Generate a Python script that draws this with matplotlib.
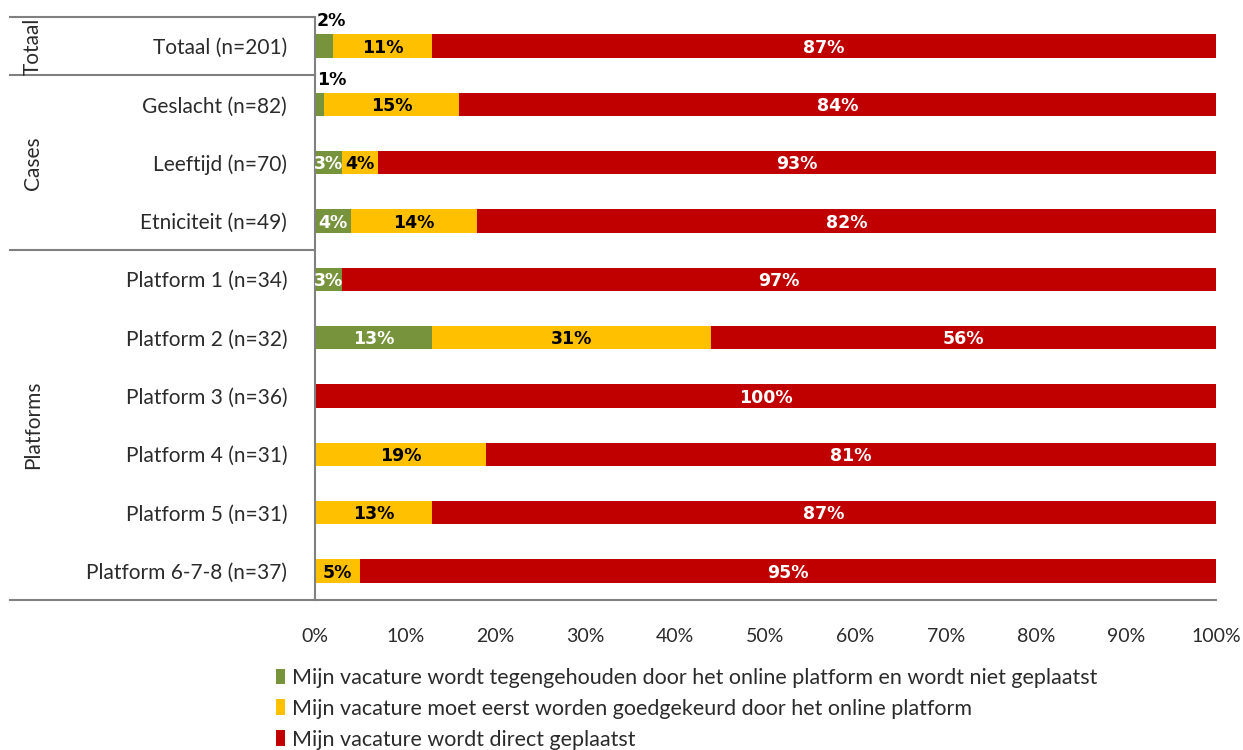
import matplotlib.pyplot as plt
import numpy as np
from matplotlib.patches import Patch

categories = ['Totaal (n=201)', 'Geslacht (n=82)', 'Leeftijd (n=70)', 'Etniciteit (n=49)',
              'Platform 1 (n=34)', 'Platform 2 (n=32)', 'Platform 3 (n=36)',
              'Platform 4 (n=31)', 'Platform 5 (n=31)', 'Platform 6-7-8 (n=37)']
tegengehouden = [2, 1, 3, 4, 3, 13, 0, 0, 0, 0]
goedgekeurd = [11, 15, 4, 14, 0, 31, 0, 19, 13, 5]
direct = [87, 84, 93, 82, 97, 56, 100, 81, 87, 95]
series_names = ['Mijn vacature wordt tegengehouden door het online platform en wordt niet geplaatst',
                'Mijn vacature moet eerst worden goedgekeurd door het online platform',
                'Mijn vacature wordt direct geplaatst']
groups = [('Totaal', 0, 0), ('Cases', 1, 3), ('Platforms', 4, 9)]
ticks = [0, 10, 20, 30, 40, 50, 60, 70, 80, 90, 100]

colors = ['#77933C', '#FFC000', '#C00000']
label_colors = ['white', 'black', 'white']
plt.rcParams['font.family'] = ['Lato', 'DejaVu Sans']
TXT = '#2b2b2b'

fig = plt.figure(figsize=(12.43, 7.5), dpi=100)
ax = fig.add_axes([315 / 1243, 150 / 750, 901 / 1243, 583 / 750])

y = np.arange(len(categories))
left = np.zeros(len(categories))
for vals, col, lcol, name in zip([tegengehouden, goedgekeurd, direct], colors, label_colors, series_names):
    vals = np.array(vals, dtype=float)
    ax.barh(y, vals, left=left, height=0.4, color=col, label=name)
    for i, v in enumerate(vals):
        if v == 0:
            continue
        if col == colors[0] and v < 3:
            # small values are written above the bar
            ax.text(left[i] + 0.2, i - 0.27, f'{v:.0f}%', ha='left', va='bottom',
                    fontsize=12.5, fontweight='bold', color='black', family='DejaVu Sans')
        else:
            ax.text(left[i] + v / 2, i + 0.03, f'{v:.0f}%', ha='center', va='center',
                    fontsize=12.5, fontweight='bold', color=lcol, family='DejaVu Sans')
    left += vals

ax.set_xlim(0, 100)
ax.set_ylim(9.5, -0.5)
ax.set_xticks(ticks)
ax.set_xticklabels([f'{t}%' for t in ticks], fontsize=14, color=TXT)
ax.tick_params(axis='x', length=0, pad=20)
ax.set_yticks(y)
ax.set_yticklabels(categories, fontsize=15, color=TXT)
ax.tick_params(axis='y', length=0, pad=20)
for s in ['top', 'right', 'bottom']:
    ax.spines[s].set_visible(False)
ax.spines['left'].set_color('#808080')
ax.spines['left'].set_linewidth(1.5)

# table-like separator lines on the left
tr = ax.get_yaxis_transform()
x0 = (10 - 315) / 901
for yy, x1 in [(-0.5, 0), (0.5, 0), (3.5, 0), (9.5, 1)]:
    ax.plot([x0, x1], [yy, yy], transform=tr, color='#808080', lw=1.5, clip_on=False)

for name, a, b in groups:
    ax.text((33 - 315) / 901, (a + b) / 2, name, transform=tr, rotation=90,
            ha='center', va='center', fontsize=15, color=TXT)

handles = [Patch(facecolor=c) for c in colors]
fig.legend(handles, series_names, loc='upper left', bbox_to_anchor=(276 / 1243, 1 - 668 / 750),
           frameon=False, prop={'size': 15.5}, handlelength=0.42,
           handleheight=0.75, handletextpad=0.3, labelspacing=0.5, borderaxespad=0,
           borderpad=0, labelcolor=TXT)

fig.savefig('out.png', dpi=100)
